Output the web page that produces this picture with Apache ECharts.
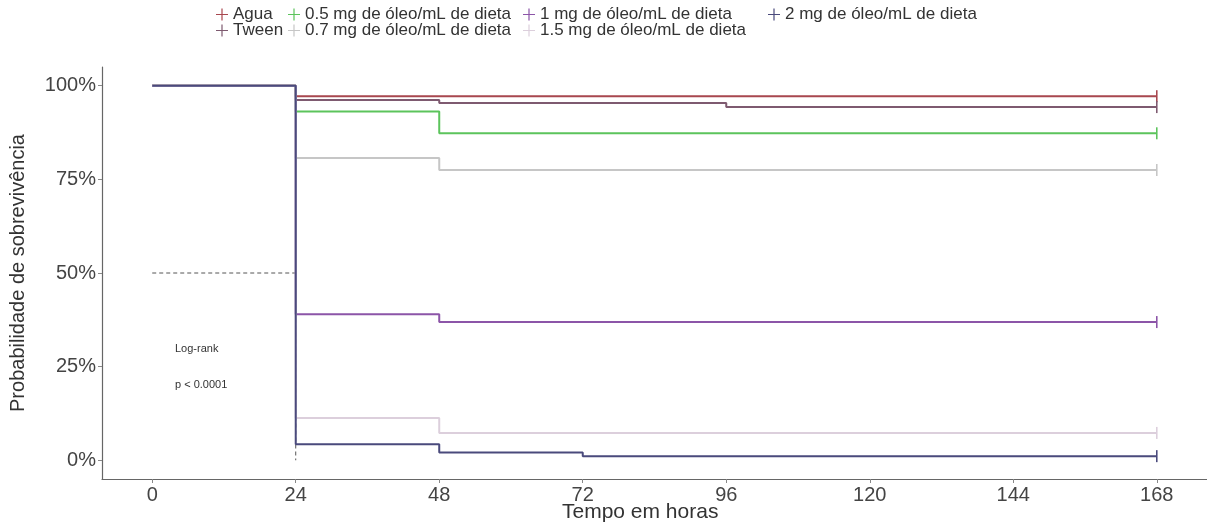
<!DOCTYPE html>
<html>
<head>
<meta charset="utf-8">
<script src="https://cdn.jsdelivr.net/npm/echarts@6/dist/echarts.min.js"></script>
<style>
  html, body { margin: 0; padding: 0; background: #fff; }
  #chart { width: 1207px; height: 525px; }
</style>
</head>
<body>
<div id="chart"></div>
<script>
// grupos (nome da legenda)
const grupos = [
  'Agua',
  'Tween',
  '0.5 mg de óleo/mL de dieta',
  '0.7 mg de óleo/mL de dieta',
  '1 mg de óleo/mL de dieta',
  '1.5 mg de óleo/mL de dieta',
  '2 mg de óleo/mL de dieta'
];
const cores = ['#a8474f', '#7e5a70', '#5cc45c', '#c6c6c6', '#8c55a8', '#dccfdc', '#4a4a7c'];

// curvas de Kaplan-Meier: [tempo (h), sobrevivência]
const agua = [[0, 1], [24, 0.972], [168, 0.972]];
const tween = [[0, 1], [24, 0.962], [48, 0.954], [96, 0.943], [168, 0.943]];
const dose05 = [[0, 1], [24, 0.931], [48, 0.873], [168, 0.873]];
const dose07 = [[0, 1], [24, 0.807], [48, 0.775], [168, 0.775]];
const dose1 = [[0, 1], [24, 0.39], [48, 0.369], [168, 0.369]];
const dose15 = [[0, 1], [24, 0.113], [48, 0.073], [168, 0.073]];
const dose2 = [[0, 1], [24, 0.043], [48, 0.021], [72, 0.011], [168, 0.011]];
const curvas = [agua, tween, dose05, dose07, dose1, dose15, dose2];

// linha da mediana (hv)
const mediana = [[0, 0.5], [24, 0.5], [24, 0]];

const xTicks = [0, 24, 48, 72, 96, 120, 144, 168];
const yTicks = [0, 0.25, 0.5, 0.75, 1];

// posição das legendas (2 linhas, por coluna)
const legPos = [[216, 14], [216, 30], [288, 14], [288, 30], [523, 14], [523, 30], [768, 14]];

const plus = 'path://M5.4,0h1.2v5.4h5.4v1.2h-5.4v5.4h-1.2v-5.4h-5.4v-1.2h5.4z';
const censor = 'path://M0,0h1v10h-1z';

const myChart = echarts.init(document.getElementById('chart'));

const series = curvas.map((d, i) => ({
  name: grupos[i],
  type: 'line',
  step: 'end',
  data: d,
  showSymbol: true,
  symbol: (v, p) => (p.dataIndex === d.length - 1 ? censor : 'none'),
  symbolSize: [1.6, 12],
  lineStyle: { color: cores[i], width: 2 },
  itemStyle: { color: cores[i] },
  animation: false,
  z: 3 + i
}));

series.unshift({
  name: 'mediana',
  type: 'line',
  data: mediana,
  showSymbol: false,
  lineStyle: { color: '#555', width: 1, type: [4, 3] },
  animation: false,
  z: 2
});

const legends = grupos.map((g, i) => ({
  data: [{ name: g, icon: plus }],
  left: legPos[i][0],
  top: legPos[i][1] - 8,
  itemWidth: 12,
  itemHeight: 12,
  padding: 0,
  textStyle: { fontSize: 17, color: '#333', fontFamily: 'Liberation Sans' }
}));

const option = {
  backgroundColor: '#fff',
  textStyle: { fontFamily: 'Liberation Sans' },
  legend: legends,
  grid: { left: 102, top: 67, width: 1127, height: 412, containLabel: false },
  xAxis: {
    type: 'value',
    min: -8.4,
    max: 176.4,
    axisLine: { onZero: false, lineStyle: { color: '#666', width: 1.2 } },
    axisTick: { show: true, length: 4, customValues: xTicks, lineStyle: { color: '#888' } },
    axisLabel: { customValues: xTicks, fontSize: 20, color: '#444', margin: 6 },
    splitLine: { show: false }
  },
  yAxis: {
    type: 'value',
    min: -0.05,
    max: 1.05,
    name: 'Probabilidade de sobrevivência',
    nameLocation: 'middle',
    nameGap: 74,
    nameTextStyle: { fontSize: 20, color: '#333' },
    axisLine: { show: true, onZero: false, lineStyle: { color: '#666', width: 1.2 } },
    axisTick: { show: true, length: 4, customValues: yTicks, lineStyle: { color: '#888' } },
    axisLabel: {
      customValues: yTicks,
      fontSize: 20,
      color: '#444',
      margin: 6,
      formatter: v => Math.round(v * 100) + '%'
    },
    splitLine: { show: false }
  },
  graphic: [
    { type: 'text', left: 562, top: 502, style: { text: 'Tempo em horas', fontSize: 21, fill: '#333', fontFamily: 'Liberation Sans' } },
    { type: 'text', left: 175, top: 343, style: { text: 'Log-rank', fontSize: 11, fill: '#333', fontFamily: 'Liberation Sans' } },
    { type: 'text', left: 175, top: 379, style: { text: 'p < 0.0001', fontSize: 11, fill: '#333', fontFamily: 'Liberation Sans' } }
  ],
  series: series
};

myChart.setOption(option);
</script>
</body>
</html>
